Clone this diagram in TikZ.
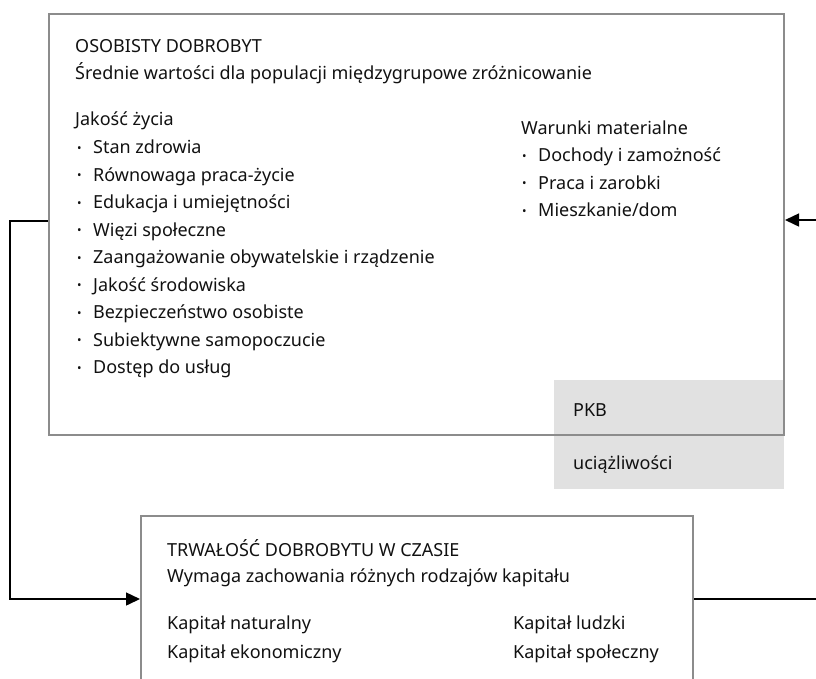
\documentclass[tikz,border=0pt]{standalone}
\usepackage{fontspec}
\setmainfont{Noto Sans}
\usetikzlibrary{arrows.meta}
\definecolor{boxgray}{HTML}{8C8C8C}
\definecolor{lightgrey}{HTML}{E1E1E1}
\definecolor{ink}{HTML}{111111}
\newcommand\mybul{\makebox[16pt][l]{\fontsize{12}{12}\selectfont\raisebox{1.2pt}{•}}}
\begin{document}
\begin{tikzpicture}[x=1pt,y=-1pt,
  txt/.style={anchor=base west, inner sep=0pt, text=ink, font=\fontsize{18}{21}\selectfont},
  box/.style={draw=boxgray, line width=2pt, inner sep=0pt, anchor=north west},
  greybox/.style={fill=lightgrey, inner sep=0pt, anchor=north west},
  conn/.style={line width=1.5pt, black},
  arr/.style={-{Triangle[length=14pt,width=13pt]}}]
\useasboundingbox (0,0) rectangle (816,678);
\clip (0,0) rectangle (816,678);
% grey boxes
\node[greybox, minimum width=230pt, minimum height=55pt] (pkb) at (554,380) {};
\node[greybox, minimum width=230pt, minimum height=54pt] (uc) at (554,435) {};
% main boxes
\node[box, minimum width=735.5pt, minimum height=421pt] (top) at (47.5,13) {};
\node[box, minimum width=552pt, minimum height=200pt] (bot) at (140,515) {};
% top box text
\node[txt] (t1) at (75,52) {OSOBISTY DOBROBYT};
\node[txt] (t2) at (75,79.5) {Średnie wartości dla populacji międzygrupowe zróżnicowanie};
\node[txt] (t3) at (75,125.5) {Jakość życia};
\node[txt] (q1) at (77,153.5) {\mybul Stan zdrowia};
\node[txt] (q2) at (77,181) {\mybul Równowaga praca-życie};
\node[txt] (q3) at (77,208.5) {\mybul Edukacja i umiejętności};
\node[txt] (q4) at (77,236) {\mybul Więzi społeczne};
\node[txt] (q5) at (77,263.5) {\mybul Zaangażowanie obywatelskie i rządzenie};
\node[txt] (q6) at (77,291) {\mybul Jakość środowiska};
\node[txt] (q7) at (77,318.5) {\mybul Bezpieczeństwo osobiste};
\node[txt] (q8) at (77,346) {\mybul Subiektywne samopoczucie};
\node[txt] (q9) at (77,373.5) {\mybul Dostęp do usług};
\node[txt] (m0) at (521,134.5) {Warunki materialne};
\node[txt] (m1) at (522,161.5) {\mybul Dochody i zamożność};
\node[txt] (m2) at (522,189) {\mybul Praca i zarobki};
\node[txt] (m3) at (522,216.5) {\mybul Mieszkanie/dom};
\node[txt] (pk) at (573,416.5) {PKB};
\node[txt] (ut) at (573,469.5) {uciążliwości};
% bottom box text
\node[txt] (b1) at (167,556.5) {TRWAŁOŚĆ DOBROBYTU W CZASIE};
\node[txt] (b2) at (167,582.5) {Wymaga zachowania różnych rodzajów kapitału};
\node[txt] (b3) at (167,629.5) {Kapitał naturalny};
\node[txt] (b4) at (167,658.5) {Kapitał ekonomiczny};
\node[txt] (b5) at (513,629.5) {Kapitał ludzki};
\node[txt] (b6) at (513,658.5) {Kapitał społeczny};
% connectors
\coordinate (c1) at (10,221);
\coordinate (c2) at (10,599);
\coordinate (c3) at (830,599);
\coordinate (c4) at (830,220);
\draw[conn, arr] (top.west |- c1) -- (c1) -- (c2) -- (bot.west |- c2);
\draw[conn, arr] (bot.east |- c3) -- (c3) -- (c4) -- (top.east |- c4);
\end{tikzpicture}
\end{document}
